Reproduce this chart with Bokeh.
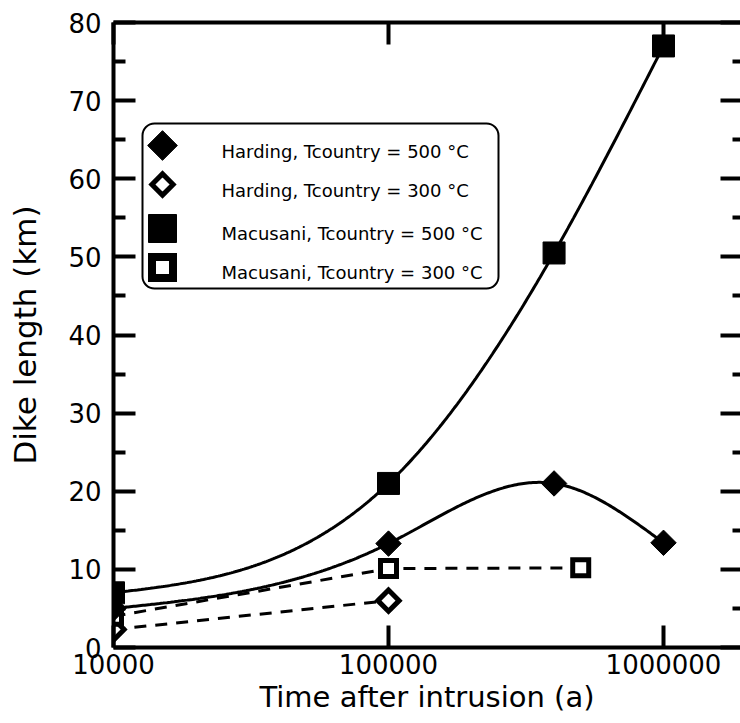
import numpy as np
from bokeh.plotting import figure
from bokeh.models import FixedTicker, LogAxis, LinearAxis, BoxAnnotation, ColumnDataSource, CustomJSTickFormatter
from bokeh.embed import file_html
from bokeh.resources import INLINE
from bokeh.core.properties import value

# ---------------- data ----------------
time_h500 = [1e4, 1e5, 4e5, 1e6]
len_h500 = [5.0, 13.3, 21.0, 13.4]
time_h300 = [1e4, 1e5]
len_h300 = [2.3, 6.0]
time_m500 = [1e4, 1e5, 4e5, 1e6]
len_m500 = [7.0, 21.0, 50.5, 77.0]
time_m300 = [1e4, 1e5, 5e5]
len_m300 = [4.0, 10.1, 10.2]

x_ticks = [1e4, 1e5, 1e6]
y_ticks = [0, 10, 20, 30, 40, 50, 60, 70, 80]
y_minor = [5, 15, 25, 35, 45, 55, 65, 75]
labels = ["Harding, Tcountry = 500 \u00b0C", "Harding, Tcountry = 300 \u00b0C",
          "Macusani, Tcountry = 500 \u00b0C", "Macusani, Tcountry = 300 \u00b0C"]

FONT = "DejaVu Sans"
X_END = 10 ** 6.28

# frame geometry (figure px)
W, H = 740, 723
BL, BR, BT, BB = 113, 0, 22, 76
FW = W - BL - BR
FH = H - BT - BB


def px_to_x(px):
    return 10 ** (4 + (px - BL) / FW * (np.log10(X_END) - 4))


def py_to_y(py):
    return (BT + FH - py) / FH * 80.0


def spline(xs, ys, n=300):
    x = np.log10(np.asarray(xs, float))
    y = np.asarray(ys, float)
    k = len(x)
    h = np.diff(x)
    A = np.zeros((k, k))
    r = np.zeros(k)
    A[0, 0] = A[-1, -1] = 1
    for i in range(1, k - 1):
        A[i, i - 1] = h[i - 1]
        A[i, i] = 2 * (h[i - 1] + h[i])
        A[i, i + 1] = h[i]
        r[i] = 6 * ((y[i + 1] - y[i]) / h[i] - (y[i] - y[i - 1]) / h[i - 1])
    M = np.linalg.solve(A, r)
    xx = np.linspace(x[0], x[-1], n)
    idx = np.clip(np.searchsorted(x, xx) - 1, 0, k - 2)
    x0, x1 = x[idx], x[idx + 1]
    hh = x1 - x0
    a = (x1 - xx) / hh
    b = (xx - x0) / hh
    yy = a * y[idx] + b * y[idx + 1] + ((a ** 3 - a) * M[idx] + (b ** 3 - b) * M[idx + 1]) * hh ** 2 / 6
    return 10 ** xx, yy


p = figure(x_axis_type="log", x_range=(1e4, X_END), y_range=(0, 80),
           width=W, height=H, min_border_left=BL, min_border_right=BR,
           min_border_top=BT, min_border_bottom=BB,
           output_backend="svg", toolbar_location=None)
p.grid.visible = False
p.outline_line_color = None
p.background_fill_color = "white"
p.border_fill_color = "white"

blank = CustomJSTickFormatter(code="return '';")

# bottom axis
xa = p.xaxis[0]
xa.ticker = FixedTicker(ticks=x_ticks, minor_ticks=[])
xa.major_tick_in = 22
xa.major_tick_out = 0
xa.minor_tick_in = 0
xa.minor_tick_out = 0
xa.axis_line_width = 4
xa.major_tick_line_width = 4
xa.major_label_text_font = FONT
xa.major_label_text_font_size = "26px"
xa.major_label_text_color = "black"
xa.major_label_standoff = 6
xa.axis_label = "Time after intrusion (a)"
xa.axis_label_text_font = FONT
xa.axis_label_text_font_size = "29px"
xa.axis_label_text_font_style = "normal"
xa.axis_label_text_color = "black"
xa.axis_label_standoff = 3
xa.formatter = CustomJSTickFormatter(code="return tick.toFixed(0);")

# left axis
ya = p.yaxis[0]
ya.ticker = FixedTicker(ticks=y_ticks, minor_ticks=y_minor)
ya.major_tick_in = 22
ya.major_tick_out = 0
ya.minor_tick_in = 12
ya.minor_tick_out = 0
ya.axis_line_width = 4
ya.major_tick_line_width = 4
ya.minor_tick_line_width = 4
ya.major_label_text_font = FONT
ya.major_label_text_font_size = "26px"
ya.major_label_text_color = "black"
ya.major_label_standoff = 12
ya.axis_label = "Dike length (km)"
ya.axis_label_text_font = FONT
ya.axis_label_text_font_size = "31px"
ya.axis_label_text_font_style = "normal"
ya.axis_label_text_color = "black"
ya.axis_label_standoff = 22

# top axis
ta = LogAxis(ticker=FixedTicker(ticks=x_ticks, minor_ticks=[]), formatter=blank,
             major_tick_in=22, major_tick_out=0, minor_tick_in=0, minor_tick_out=0,
             axis_line_width=4, major_tick_line_width=4, major_label_standoff=0)
p.add_layout(ta, "above")

# right axis (spine outside the picture, ticks only)
ra = LinearAxis(ticker=FixedTicker(ticks=y_ticks, minor_ticks=y_minor), formatter=blank,
                major_tick_in=20, major_tick_out=0, minor_tick_in=8, minor_tick_out=0,
                axis_line_color=None, major_tick_line_width=4, minor_tick_line_width=4,
                major_label_standoff=0)
p.add_layout(ra, "right")

# curves
xs, ys = spline(time_m500, len_m500)
p.line(xs, ys, line_color="black", line_width=3)
xs, ys = spline(time_h500, len_h500)
p.line(xs, ys, line_color="black", line_width=3)
p.line(time_m300, len_m300, line_color="black", line_width=3, line_dash="12 9")
p.line(time_h300, len_h300, line_color="black", line_width=3, line_dash="12 9")

ang = np.pi / 4
# markers
p.scatter(time_h300, len_h300, marker="square", size=15, angle=ang,
          fill_color="white", line_color="black", line_width=5, line_join="miter")
p.scatter(time_m300, len_m300, marker="square", size=16,
          fill_color="white", line_color="black", line_width=5, line_join="miter")
p.scatter(time_h500, len_h500, marker="square", size=18, angle=ang,
          fill_color="black", line_color="black", line_width=1, line_join="miter")
p.scatter(time_m500, len_m500, marker="square", size=22,
          fill_color="black", line_color="black", line_width=1, line_join="miter")

# legend box (positions in figure px converted to data)
box = BoxAnnotation(left=px_to_x(142), right=px_to_x(498),
                    top=py_to_y(123), bottom=py_to_y(288),
                    fill_color="white", fill_alpha=1.0,
                    line_color="black", line_alpha=1.0, line_width=2,
                    border_radius=12, level="annotation")
p.add_layout(box)

mark_py = [145, 184, 228, 267]
text_py = [151, 190, 233, 272]
mx = px_to_x(162)
tx = px_to_x(221)
my = [py_to_y(v) for v in mark_py]
ty = [py_to_y(v) for v in text_py]
p.scatter([mx], [my[0]], marker="square", size=21, angle=ang, fill_color="black",
          line_color="black", line_join="miter", level="overlay")
p.scatter([mx], [my[1]], marker="square", size=15, angle=ang, fill_color="white",
          line_color="black", line_width=5, line_join="miter", level="overlay")
p.scatter([mx], [my[2]], marker="square", size=28, fill_color="black",
          line_color="black", line_join="miter", level="overlay")
p.scatter([mx], [my[3]], marker="square", size=21, fill_color="white",
          line_color="black", line_width=8, line_join="miter", level="overlay")
src = ColumnDataSource(dict(x=[tx] * 4, y=ty, t=labels))
p.text(x="x", y="y", text="t", source=src, text_font=value(FONT),
       text_font_size="18px", text_baseline="middle", text_align="left",
       text_color="black", level="overlay")

open("out.html", "w").write(file_html(p, INLINE))
